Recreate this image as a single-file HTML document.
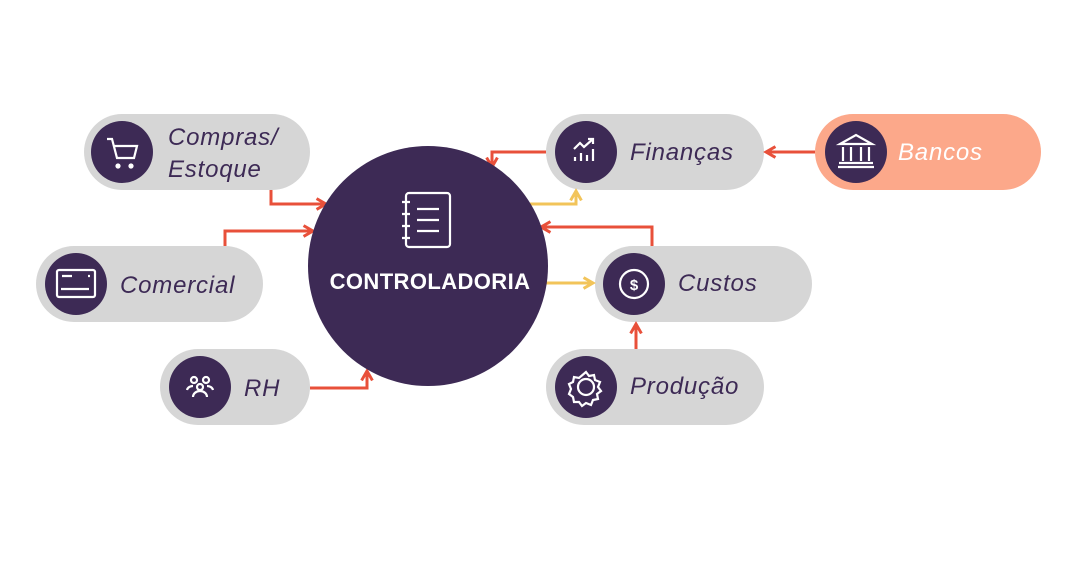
<!DOCTYPE html>
<html><head><meta charset="utf-8"><style>
body{margin:0;background:#fff;width:1080px;height:572px;overflow:hidden}
</style></head><body>
<svg width="1080" height="572" viewBox="0 0 1080 572" xmlns="http://www.w3.org/2000/svg" font-family="Liberation Sans, sans-serif">
<defs>
<marker id="r" viewBox="0 0 10 10" refX="8" refY="5" markerWidth="4.5" markerHeight="4.5" orient="auto"><path d="M1,1 L8,5 L1,9" fill="none" stroke="#e8503a" stroke-width="2.2"/></marker>
<marker id="y" viewBox="0 0 10 10" refX="8" refY="5" markerWidth="4.5" markerHeight="4.5" orient="auto"><path d="M1,1 L8,5 L1,9" fill="none" stroke="#f2c45a" stroke-width="2.2"/></marker>
</defs>
<g fill="#d6d6d6">
<rect x="84" y="114" width="226" height="76" rx="38"/>
<rect x="36" y="246" width="227" height="76" rx="38"/>
<rect x="160" y="349" width="150" height="76" rx="38"/>
<rect x="546" y="114" width="218" height="76" rx="38"/>
<rect x="595" y="246" width="217" height="76" rx="38"/>
<rect x="546" y="349" width="218" height="76" rx="38"/>
</g>
<rect x="815" y="114" width="226" height="76" rx="38" fill="#fca88a"/>
<g fill="none" stroke-width="3" stroke-linejoin="miter">
<polyline points="271,190 271,204 326,204" stroke="#e8503a" marker-end="url(#r)"/>
<polyline points="225,246 225,231 313,231" stroke="#e8503a" marker-end="url(#r)"/>
<polyline points="310,388 367,388 367,371" stroke="#e8503a" marker-end="url(#r)"/>
<polyline points="546,152 492,152 492,167" stroke="#e8503a" marker-end="url(#r)"/>
<polyline points="652,246 652,227 541,227" stroke="#e8503a" marker-end="url(#r)"/>
<polyline points="636,349 636,324" stroke="#e8503a" marker-end="url(#r)"/>
<polyline points="815,152 766,152" stroke="#e8503a" marker-end="url(#r)"/>
<polyline points="528,204 576,204 576,191" stroke="#f2c45a" marker-end="url(#y)"/>
<polyline points="546,283 593,283" stroke="#f2c45a" marker-end="url(#y)"/>
</g>
<circle cx="428" cy="266" r="120" fill="#3d2a55"/>
<g fill="#3d2a55">
<circle cx="122" cy="152" r="31"/><circle cx="76" cy="284" r="31"/><circle cx="200" cy="387" r="31"/>
<circle cx="586" cy="152" r="31"/><circle cx="856" cy="152" r="31"/><circle cx="634" cy="284" r="31"/><circle cx="586" cy="387" r="31"/>
</g>
<g fill="none" stroke="#fff" stroke-width="2.2">
<rect x="406" y="193" width="44" height="54" rx="3"/>
<path d="M417,209h22M417,220h22M417,231h22M402,202h8M402,214h8M402,226h8M402,238h8"/>
<path d="M107,139h5l5,19h17l3,-12h-23"/><circle cx="118" cy="166" r="1.5" fill="#fff"/><circle cx="131" cy="166" r="1.5" fill="#fff"/>
<rect x="57" y="270" width="38" height="27" rx="2"/><path d="M61,289h28M62,276h10M88,276h2"/>
<circle cx="194" cy="380" r="3"/><circle cx="206" cy="380" r="3"/><circle cx="200" cy="387" r="3"/><path d="M193,397a7,6 0 0 1 14,0M187,390a6,5 0 0 1 6,-4M213,390a6,5 0 0 0 -6,-4"/>
<path d="M575,161v-4M581,161v-8M587,161v-6M593,161v-12M574,149l6,-6 4,4 9,-8M588,139h5v5"/>
<path d="M840,144l16,-9 16,9zM843,147v14M851,147v14M861,147v14M869,147v14M839,163h34M838,167h36"/>
<circle cx="634" cy="284" r="14"/>
<circle cx="586" cy="387" r="8"/>
<path d="M586,371l3,4 5,-1 1,5 5,2 -2,5 3,4 -4,3 1,5 -5,1 -2,5 -5,-2 -4,3 -3,-4 -5,0 -1,-5 -4,-3 2,-5 -2,-5 4,-2 1,-5 5,1z" transform="translate(0,1)"/>
</g>
<text x="634" y="290" text-anchor="middle" font-size="15" font-weight="bold" fill="#fff">$</text>
<g font-style="italic" font-size="24" fill="#3d2a55" letter-spacing="0.8">
<text x="168" y="145">Compras/</text><text x="168" y="177">Estoque</text>
<text x="120" y="293">Comercial</text>
<text x="244" y="396">RH</text>
<text x="630" y="160">Finanças</text>
<text x="678" y="291">Custos</text>
<text x="630" y="394">Produção</text>
<text x="898" y="160" fill="#fff">Bancos</text>
</g>
<text x="430" y="289" text-anchor="middle" font-size="22" font-weight="bold" fill="#fff" letter-spacing="0.4">CONTROLADORIA</text>
</svg>
</body></html>
